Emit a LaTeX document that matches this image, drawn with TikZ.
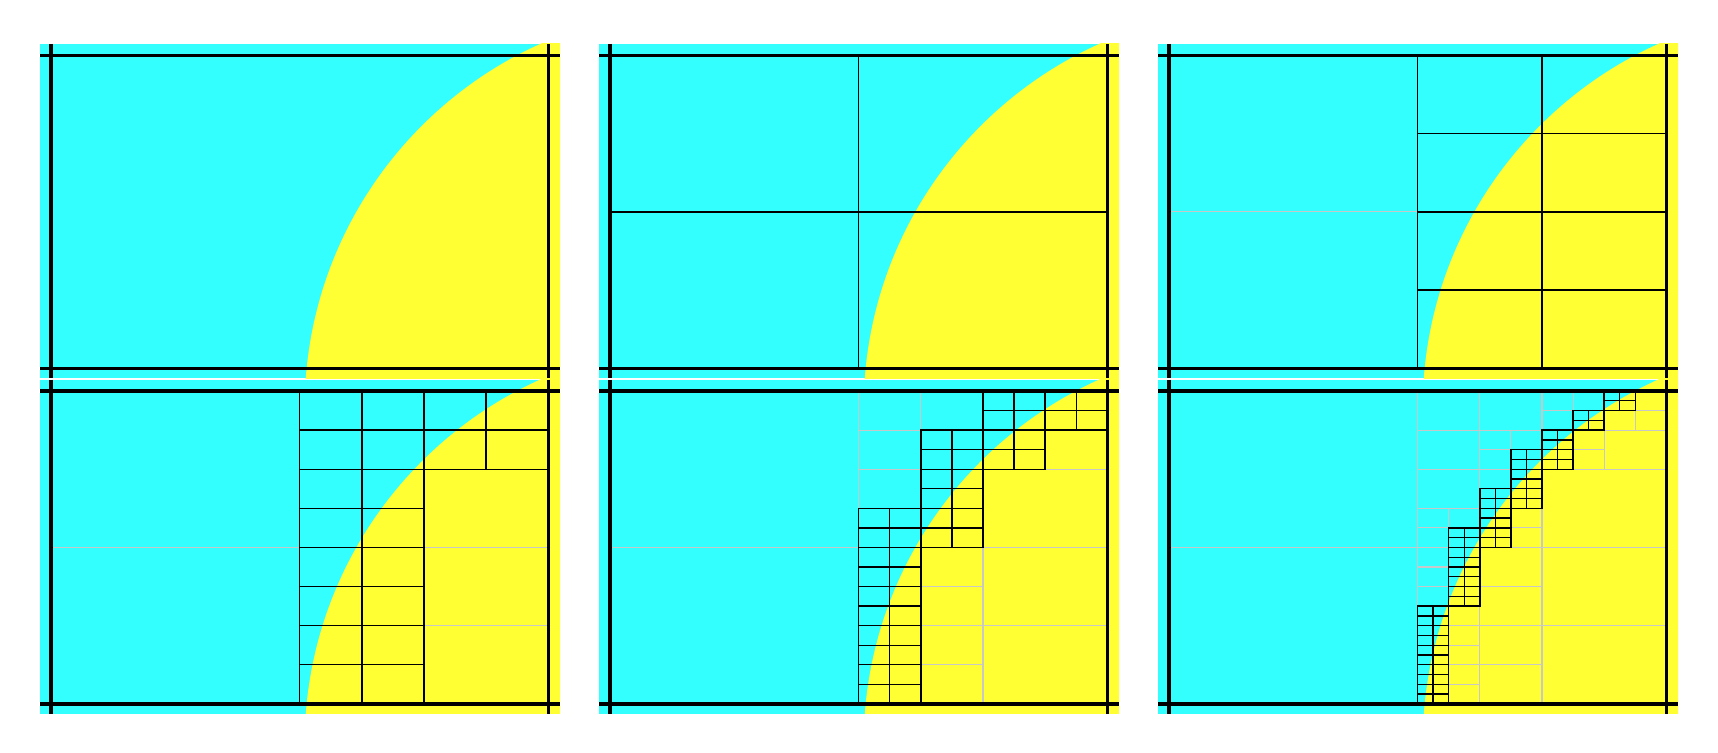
\documentclass[tikz,border=0pt]{standalone}
\usepackage{tikz}
\definecolor{cy}{RGB}{51,255,255}
\definecolor{ye}{RGB}{255,255,51}
\definecolor{lg}{RGB}{200,200,200}
\tikzset{
  newgrid/.style={black, line width=1.4pt, line cap=rect},
  oldgrid/.style={lg, line width=1.1pt, line cap=rect},
  framebar/.style={black, line width=3.2pt},
}
% style, h, i1, j1, i2, j2 (indices in cells of size h)
\newcommand\gpatch[6]{%
  \foreach \ii in {#3,...,#5} {\draw[#1] ({\ii*#2},{#4*#2}) -- ({\ii*#2},{#6*#2});}
  \foreach \jj in {#4,...,#6} {\draw[#1] ({#3*#2},{\jj*#2}) -- ({#5*#2},{\jj*#2});}
}
\newcommand\levelA[1]{\gpatch{#1}{16}{0}{0}{1}{1}}
\newcommand\levelB[1]{\gpatch{#1}{8}{0}{0}{2}{2}}
\newcommand\levelC[1]{\gpatch{#1}{4}{2}{0}{4}{4}}
\newcommand\levelD[1]{\gpatch{#1}{2}{4}{0}{6}{8}\gpatch{#1}{2}{6}{0}{8}{2}}
\newcommand\levelE[1]{\gpatch{#1}{1}{12}{0}{16}{2}\gpatch{#1}{1}{10}{2}{14}{4}%
  \gpatch{#1}{1}{10}{4}{12}{8}\gpatch{#1}{1}{8}{6}{10}{16}}
\newcommand\levelF[1]{\gpatch{#1}{0.5}{28}{0}{30}{2}\gpatch{#1}{0.5}{26}{2}{28}{4}%
  \gpatch{#1}{0.5}{24}{4}{26}{8}\gpatch{#1}{0.5}{22}{6}{24}{12}%
  \gpatch{#1}{0.5}{20}{10}{22}{16}\gpatch{#1}{0.5}{18}{14}{20}{22}%
  \gpatch{#1}{0.5}{16}{22}{18}{32}}
% X0, Y0, old levels, new level
\newcommand\mypanel[4]{%
  \begin{scope}[shift={(#1pt,-#2pt)}]
    \begin{scope}
      \clip (0pt,0pt) rectangle (520pt,-334pt);
      \fill[cy] (0pt,0pt) rectangle (520pt,-334pt);
      \fill[ye] (664.6pt,-364.7pt) circle[radius=400pt];
    \end{scope}
    \begin{scope}[shift={(11pt,-11.4pt)}, x=31.08pt, y=-19.556pt]
      #3
      #4
    \end{scope}
    \draw[framebar] (11pt,0pt) -- (11pt,-334pt);
    \draw[framebar] (508.3pt,0pt) -- (508.3pt,-334pt);
    \draw[framebar] (0pt,-11.4pt) -- (520pt,-11.4pt);
    \draw[framebar] (0pt,-324.3pt) -- (520pt,-324.3pt);
  \end{scope}}
\begin{document}
\begin{tikzpicture}
  \useasboundingbox (0pt,0pt) rectangle (1718pt,-752pt);
  \fill[white] (0pt,0pt) rectangle (1718pt,-752pt);
  \mypanel{40}{44}{}{\levelA{newgrid}}
  \mypanel{599}{44}{\levelA{oldgrid}}{\levelB{newgrid}}
  \mypanel{1158}{44}{\levelA{oldgrid}\levelB{oldgrid}}{\levelC{newgrid}}
  \mypanel{40}{379.6}{\levelA{oldgrid}\levelB{oldgrid}\levelC{oldgrid}}{\levelD{newgrid}}
  \mypanel{599}{379.6}{\levelA{oldgrid}\levelB{oldgrid}\levelC{oldgrid}\levelD{oldgrid}}{\levelE{newgrid}}
  \mypanel{1158}{379.6}{\levelA{oldgrid}\levelB{oldgrid}\levelC{oldgrid}\levelD{oldgrid}\levelE{oldgrid}}{\levelF{newgrid}}
\end{tikzpicture}
\end{document}
